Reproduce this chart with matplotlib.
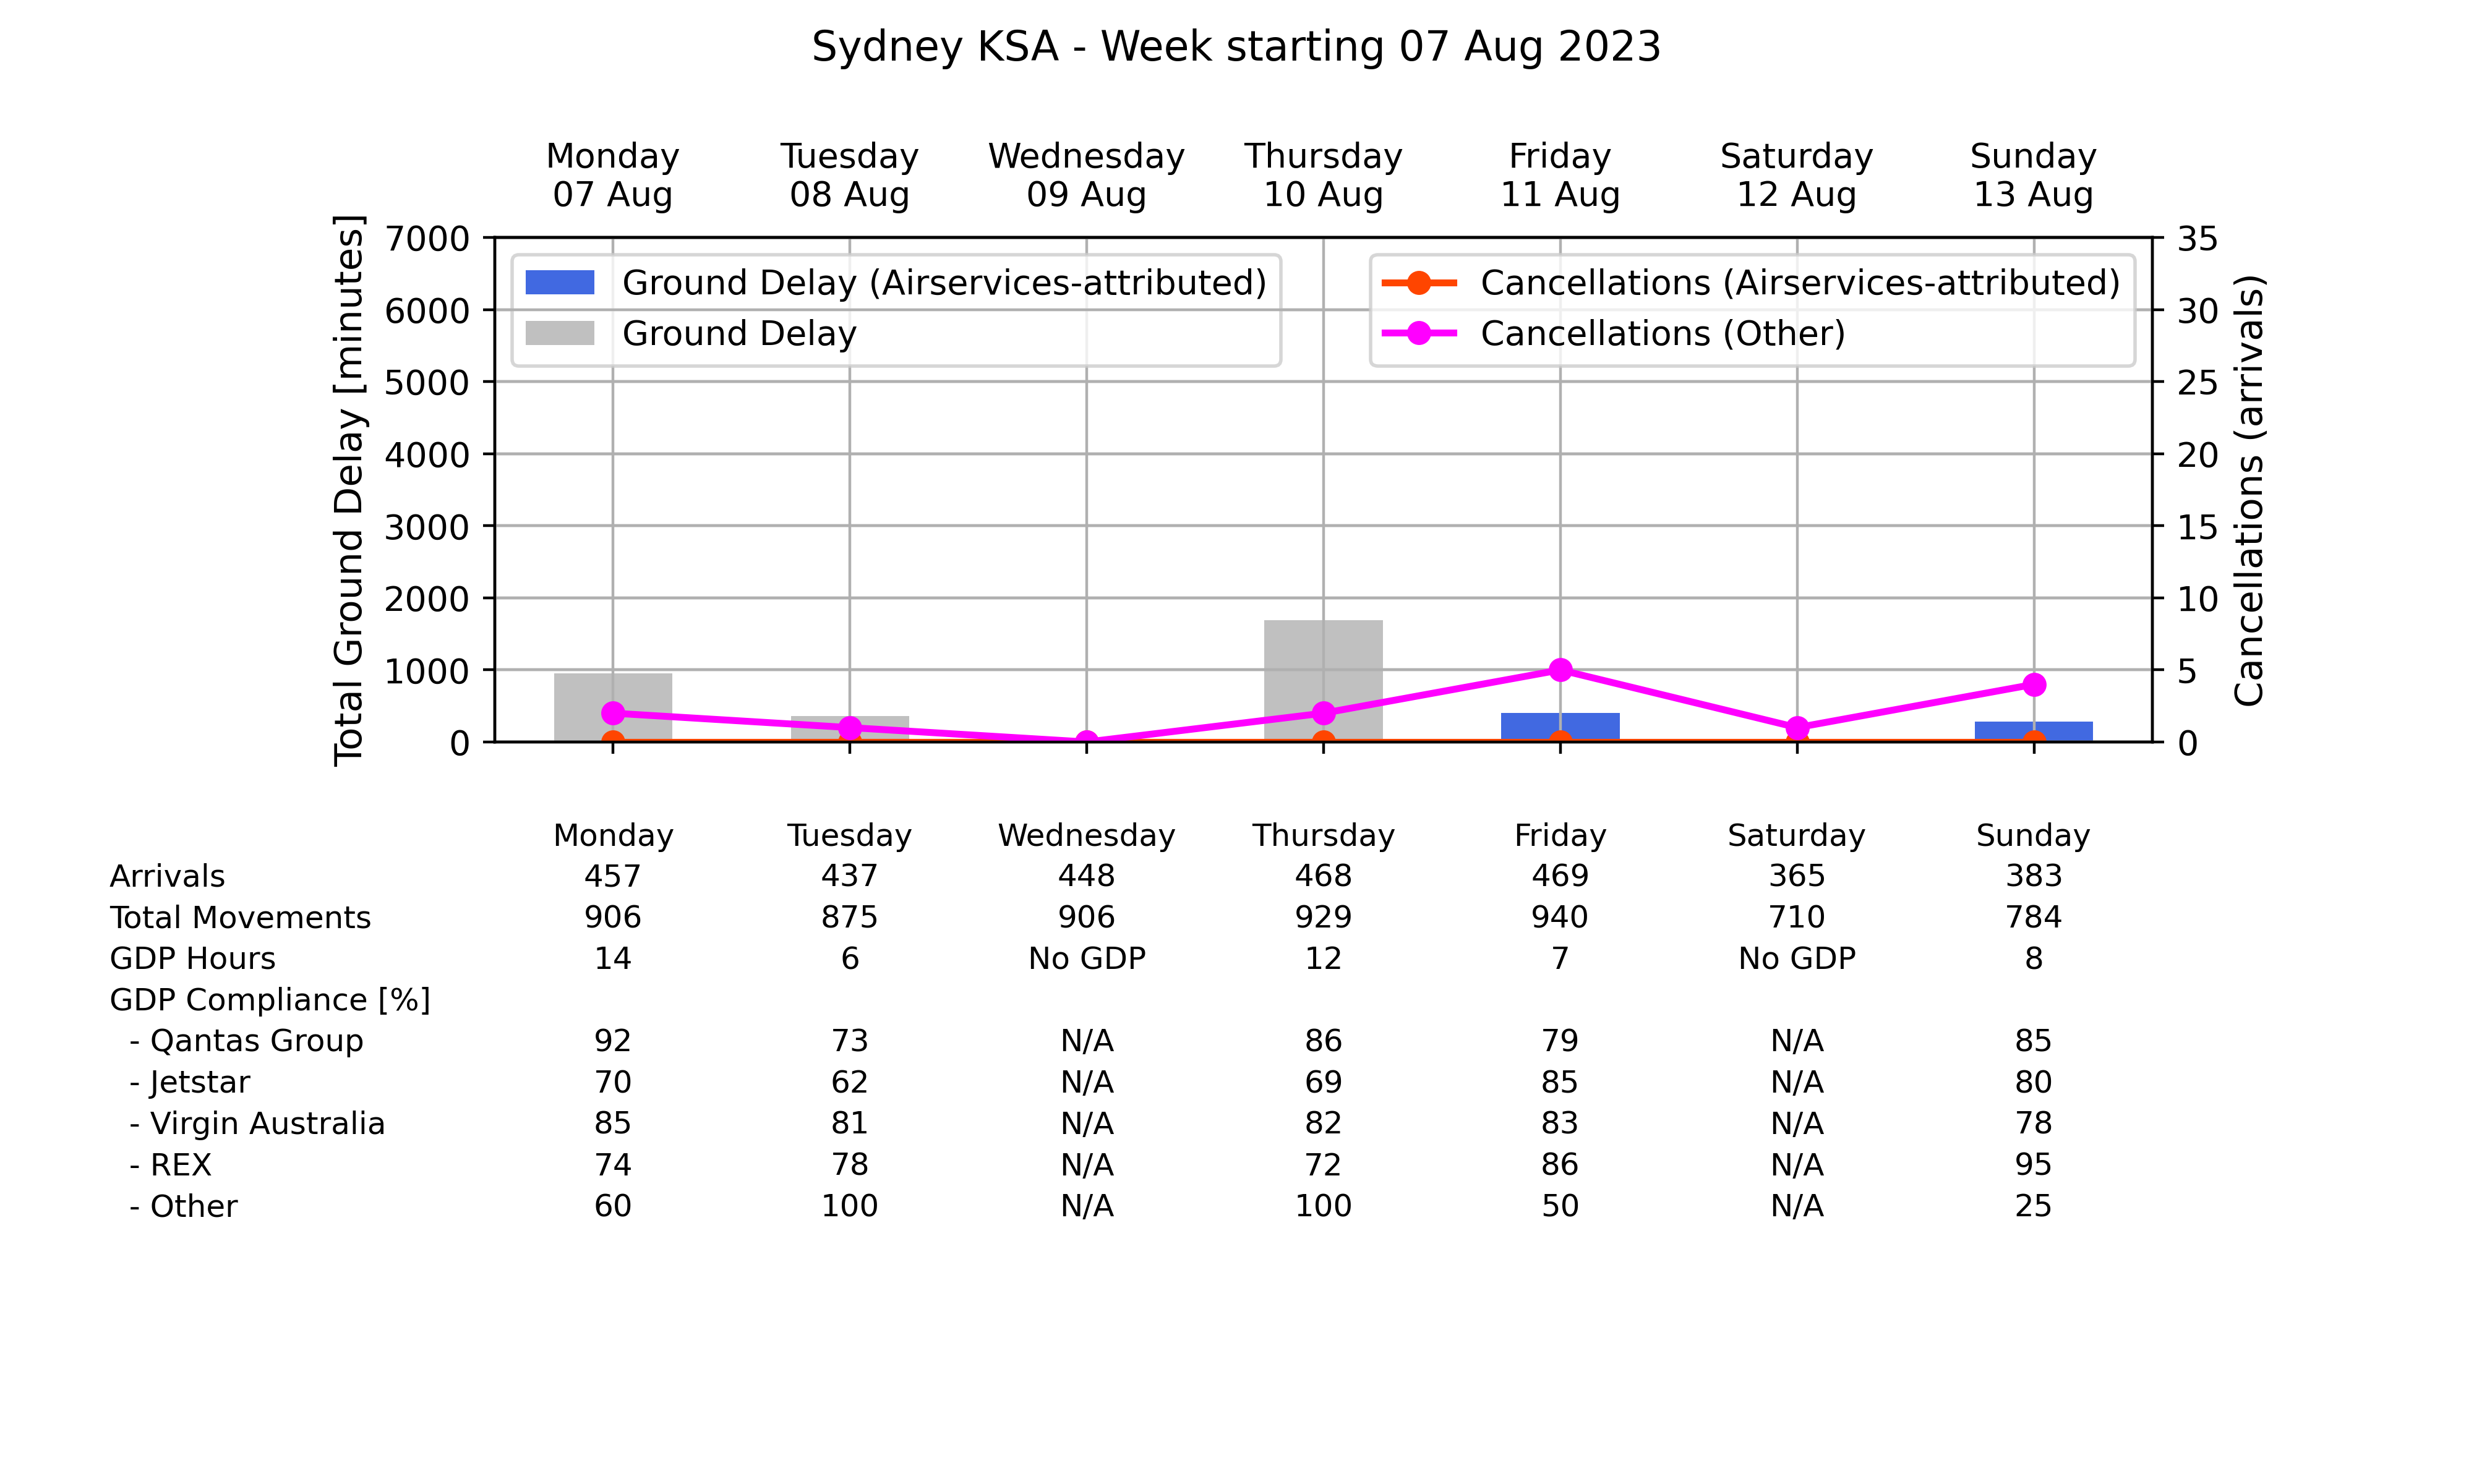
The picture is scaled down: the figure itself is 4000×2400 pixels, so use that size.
import matplotlib
matplotlib.use("Agg")
import matplotlib.pyplot as plt
import matplotlib.transforms as mtransforms

days = ["Monday", "Tuesday", "Wednesday", "Thursday", "Friday", "Saturday", "Sunday"]
dates = ["07 Aug", "08 Aug", "09 Aug", "10 Aug", "11 Aug", "12 Aug", "13 Aug"]

ground_delay = [950, 360, 0, 1690, 400, 0, 280]
ground_delay_as = [0, 0, 0, 0, 400, 0, 280]
canc_as = [0, 0, 0, 0, 0, 0, 0]
canc_other = [2, 1, 0, 2, 5, 1, 4]

row_labels = ["Arrivals", "Total Movements", "GDP Hours", "GDP Compliance [%]",
              "  - Qantas Group", "  - Jetstar", "  - Virgin Australia", "  - REX", "  - Other"]
arrivals = ["457", "437", "448", "468", "469", "365", "383"]
movements = ["906", "875", "906", "929", "940", "710", "784"]
gdp_hours = ["14", "6", "No GDP", "12", "7", "No GDP", "8"]
compliance = [""] * 7
qantas = ["92", "73", "N/A", "86", "79", "N/A", "85"]
jetstar = ["70", "62", "N/A", "69", "85", "N/A", "80"]
virgin = ["85", "81", "N/A", "82", "83", "N/A", "78"]
rex = ["74", "78", "N/A", "72", "86", "N/A", "95"]
other = ["60", "100", "N/A", "100", "50", "N/A", "25"]
table_rows = [arrivals, movements, gdp_hours, compliance, qantas, jetstar, virgin, rex, other]

x = list(range(len(days)))

fig = plt.figure(figsize=(10, 6), dpi=400)
ax = fig.add_axes([0.2, 0.5, 0.67, 0.34])

ax.bar(x, ground_delay, width=0.5, color="silver", label="Ground Delay", zorder=1)
ax.bar(x, ground_delay_as, width=0.5, color="royalblue",
       label="Ground Delay (Airservices-attributed)", zorder=1.2)
ax.set_ylim(0, 7000)
ax.set_xlim(-0.5, 6.5)
ax.set_ylabel("Total Ground Delay [minutes]", fontsize=11)
ax.set_xticks(x)
ax.set_xticklabels([])
ax.grid(True)
handles, labels = ax.get_legend_handles_labels()
ax.legend(handles[::-1], labels[::-1], loc="upper left")

ax2 = ax.twinx()
ax2.plot(x, canc_as, color="orangered", marker="o", lw=2,
         label="Cancellations (Airservices-attributed)")
ax2.plot(x, canc_other, color="magenta", marker="o", lw=2,
         label="Cancellations (Other)")
ax2.set_ylim(0, 35)
ax2.set_yticks(range(0, 36, 5))
ax2.set_ylabel("Cancellations (arrivals)", fontsize=11)
ax2.grid(True)
ax2.legend(loc="upper right")

top = ax.secondary_xaxis("top")
top.set_xticks(x)
top.set_xticklabels([f"{d}\n{dt}" for d, dt in zip(days, dates)])
top.tick_params(length=0, pad=7)

fig.suptitle("Sydney KSA - Week starting 07 Aug 2023", fontsize=12, y=0.981)

# summary table under the chart
trans = mtransforms.blended_transform_factory(ax.transData, fig.transFigure)
for i, d in enumerate(days):
    fig.text(i, 0.436, d, transform=trans, ha="center", va="center", fontsize=9)
y0 = 0.4085
step = 0.0278
for r, (lab, vals) in enumerate(zip(row_labels, table_rows)):
    y = y0 - r * step
    fig.text(0.0442, y, lab, ha="left", va="center", fontsize=9)
    for i, v in enumerate(vals):
        fig.text(i, y, v, transform=trans, ha="center", va="center", fontsize=9)

fig.savefig("out.png")
